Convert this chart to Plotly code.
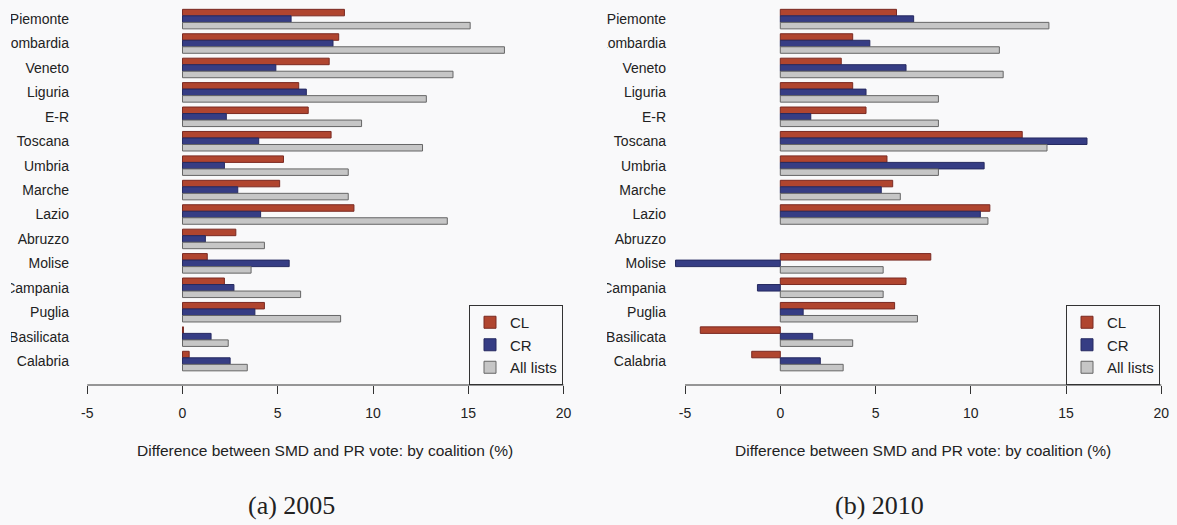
import plotly.graph_objects as go

regions = ["Piemonte", "Lombardia", "Veneto", "Liguria", "E-R", "Toscana", "Umbria",
           "Marche", "Lazio", "Abruzzo", "Molise", "Campania", "Puglia", "Basilicata", "Calabria"]

# 2005: difference between SMD and PR vote (%)
cl_2005 = [8.5, 8.2, 7.7, 6.1, 6.6, 7.8, 5.3, 5.1, 9.0, 2.8, 1.3, 2.2, 4.3, 0.05, 0.35]
cr_2005 = [5.7, 7.9, 4.9, 6.5, 2.3, 4.0, 2.2, 2.9, 4.1, 1.2, 5.6, 2.7, 3.8, 1.5, 2.5]
all_2005 = [15.1, 16.9, 14.2, 12.8, 9.4, 12.6, 8.7, 8.7, 13.9, 4.3, 3.6, 6.2, 8.3, 2.4, 3.4]

# 2010 (no Abruzzo race)
cl_2010 = [6.1, 3.8, 3.2, 3.8, 4.5, 12.7, 5.6, 5.9, 11.0, None, 7.9, 6.6, 6.0, -4.2, -1.5]
cr_2010 = [7.0, 4.7, 6.6, 4.5, 1.6, 16.1, 10.7, 5.3, 10.5, None, -5.5, -1.2, 1.2, 1.7, 2.1]
all_2010 = [14.1, 11.5, 11.7, 8.3, 8.3, 14.0, 8.3, 6.3, 10.9, None, 5.4, 5.4, 7.2, 3.8, 3.3]

series_names = ["CL", "CR", "All lists"]
fill_colors = ["#B0452F", "#363D84", "#C6C6C6"]
edge_colors = ["#7A2A22", "#262A60", "#666666"]

tick_vals = [-5, 0, 5, 10, 15, 20]
tick_text = ["-5", "0", "5", "10", "15", "20"]
x_title = "Difference between SMD and PR vote: by coalition (%)"
captions = ["(a) 2005", "(b) 2010"]

W, H = 1177, 525
FONT = "Liberation Sans, Arial, sans-serif"
BG = "#F9F9FA"

fig = go.Figure()

panels = [
    ("x", "y", "legend", [cl_2005, cr_2005, all_2005]),
    ("x2", "y2", "legend2", [cl_2010, cr_2010, all_2010]),
]
for xa, ya, lg, data in panels:
    for name, vals, fc, ec in zip(series_names, data, fill_colors, edge_colors):
        fig.add_trace(go.Bar(
            y=regions, x=vals, orientation="h", name=name,
            marker=dict(color=fc, line=dict(color=ec, width=1)),
            xaxis=xa, yaxis=ya, legend=lg,
        ))

# pixel geometry of the two plotting panels
left_dom = [73 / W, 575 / W]
right_dom = [670 / W, 1172 / W]
px_per_unit = 19.05
left_zero, right_zero = 182.5, 780.3
left_range = [(73 - left_zero) / px_per_unit, (575 - left_zero) / px_per_unit]
right_range = [(670 - right_zero) / px_per_unit, (1172 - right_zero) / px_per_unit]

y_range = [14.98, -0.70]

xcommon = dict(
    tickvals=tick_vals, ticktext=tick_text, ticks="outside", ticklen=8,
    tickcolor="#333333", tickwidth=1,
    showline=False, showgrid=False, zeroline=False,
    tickfont=dict(family=FONT, size=14, color="#222222"),
    ticklabelstandoff=7,
)
ycommon = dict(
    range=y_range, showgrid=False, zeroline=False, showline=False, ticks="",
    tickfont=dict(family=FONT, size=14, color="#222222"),
    ticklabelstandoff=3,
)

legend_common = dict(
    bgcolor="rgba(0,0,0,0)", bordercolor="#333333", borderwidth=1,
    font=dict(family=FONT, size=15, color="#222222"),
    xanchor="right", yanchor="bottom", y=0, tracegroupgap=0,
)

fig.update_layout(
    width=W, height=H,
    margin=dict(l=0, r=0, t=2, b=140),
    paper_bgcolor=BG, plot_bgcolor=BG,
    barmode="group", bargap=0.2, bargroupgap=0.0,
    xaxis=dict(domain=left_dom, range=left_range, anchor="y", **xcommon),
    yaxis=dict(domain=[0, 1], anchor="x", **ycommon),
    xaxis2=dict(domain=right_dom, range=right_range, anchor="y2", **xcommon),
    yaxis2=dict(domain=[0, 1], anchor="x2", **ycommon),
    legend=dict(x=563 / W, **legend_common),
    legend2=dict(x=1160 / W, **legend_common),
)

# axis lines spanning the labelled range only
for xref in ("x", "x2"):
    fig.add_shape(type="line", xref=xref, yref="paper", x0=-5, x1=20, y0=0, y1=0,
                  line=dict(color="#333333", width=1))

# left edge of the label column is cut off in each panel
for x0, x1 in ((0, 11), (590, 607)):
    fig.add_shape(type="rect", xref="paper", yref="paper",
                  x0=x0 / W, x1=x1 / W, y0=0.02, y1=1.0,
                  fillcolor=BG, line=dict(width=0), layer="above")

for cx in (325, 923):
    fig.add_annotation(x=cx / W, y=-(450 - 385) / 383, xref="paper", yref="paper",
                       xanchor="center", yanchor="middle",
                       text=x_title, showarrow=False,
                       font=dict(family=FONT, size=15.5, color="#222222"))
for cx, cap in zip((291, 879), captions):
    fig.add_annotation(x=cx / W, y=-(506 - 385) / 383, xref="paper", yref="paper",
                       xanchor="center", yanchor="middle",
                       text=cap, showarrow=False,
                       font=dict(family="Liberation Serif, Times New Roman, serif",
                                 size=26, color="#222222"))

fig.write_html("out.html")
